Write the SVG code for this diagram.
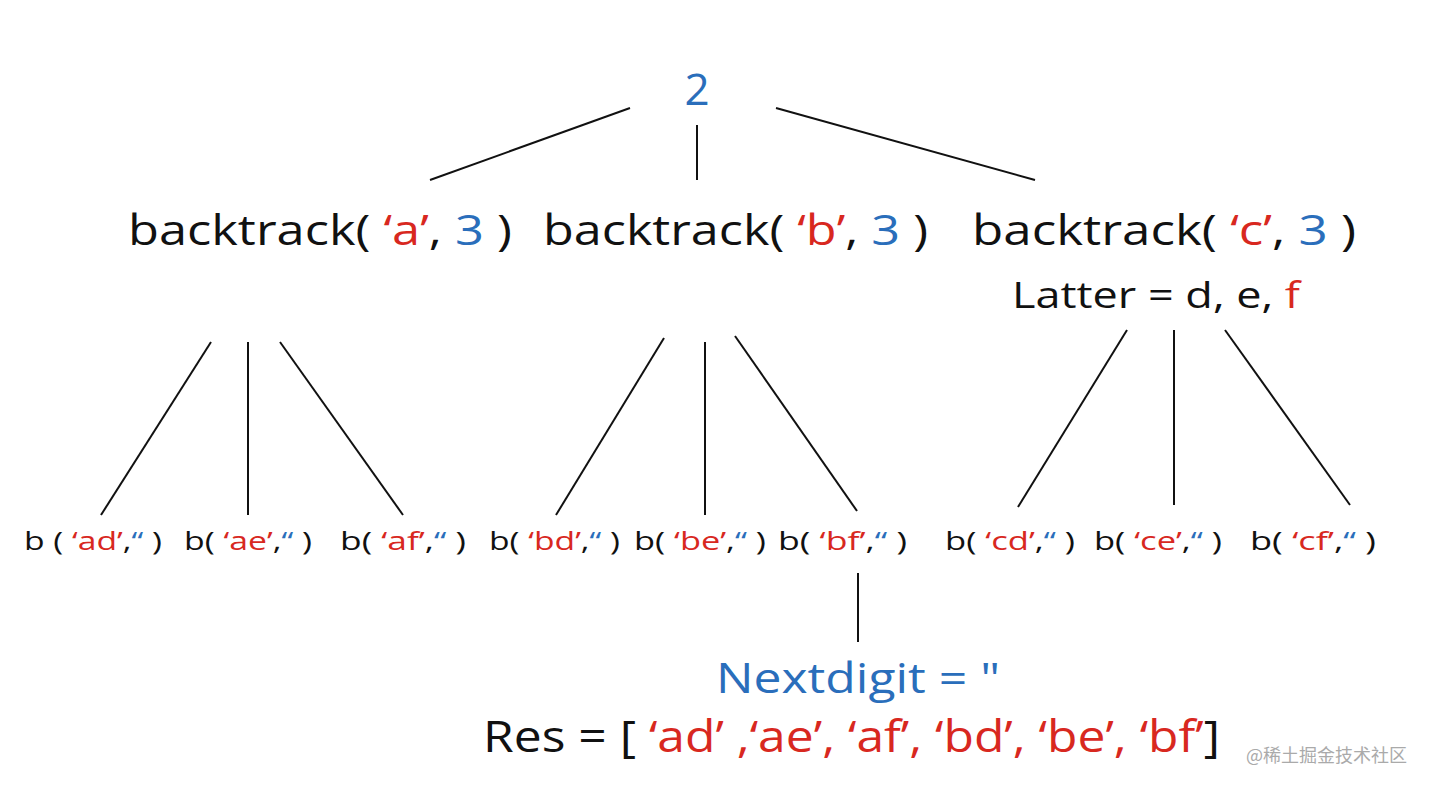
<svg xmlns="http://www.w3.org/2000/svg" width="1430" height="788" viewBox="0 0 1430 788">
<style>
text{font-family:"Open Sans","Liberation Sans",sans-serif;fill:#111}
.r{fill:#d8281f}.b{fill:#2a6ebb}
.l1{font-size:42px}.s{font-size:26px}
line{stroke:#111;stroke-width:2}
</style>
<rect width="1430" height="788" fill="#fff"/>
<g id="connectors">
<line x1="630" y1="108" x2="430" y2="180"/><line x1="697" y1="125" x2="697" y2="180"/><line x1="776" y1="108" x2="1035" y2="180"/>
<line x1="211" y1="342" x2="101" y2="515"/><line x1="248" y1="342" x2="248" y2="515"/><line x1="280" y1="342" x2="403" y2="515"/>
<line x1="664" y1="338" x2="556" y2="515"/><line x1="705" y1="342" x2="705" y2="515"/><line x1="735" y1="336" x2="857" y2="511"/>
<line x1="1127" y1="330" x2="1018" y2="507"/><line x1="1174" y1="330" x2="1174" y2="505"/><line x1="1225" y1="330" x2="1350" y2="505"/>
<line x1="858" y1="573" x2="858" y2="642"/>
</g>
<g id="root"><text x="697" y="105" class="b" font-size="44" text-anchor="middle">2</text></g>
<g id="bt-a"><text class="l1" x="128" y="245" textLength="384" lengthAdjust="spacingAndGlyphs">backtrack( <tspan class="r">‘a’</tspan>, <tspan class="b">3</tspan> )</text></g>
<g id="bt-b"><text class="l1" x="543" y="245" textLength="385" lengthAdjust="spacingAndGlyphs">backtrack( <tspan class="r">‘b’</tspan>, <tspan class="b">3</tspan> )</text></g>
<g id="bt-c"><text class="l1" x="972" y="245" textLength="384" lengthAdjust="spacingAndGlyphs">backtrack( <tspan class="r">‘c’</tspan>, <tspan class="b">3</tspan> )</text>
<text x="1012" y="308" font-size="36" textLength="288" lengthAdjust="spacingAndGlyphs">Latter = d, e, <tspan class="r">f</tspan></text></g>
<g id="ad"><text class="s" x="24" y="550" textLength="138" lengthAdjust="spacingAndGlyphs">b ( <tspan class="r">‘ad’</tspan>,<tspan class="b">“</tspan> )</text></g>
<g id="ae"><text class="s" x="184" y="550" textLength="128" lengthAdjust="spacingAndGlyphs">b( <tspan class="r">‘ae’</tspan>,<tspan class="b">“</tspan> )</text></g>
<g id="af"><text class="s" x="340" y="550" textLength="126" lengthAdjust="spacingAndGlyphs">b( <tspan class="r">‘af’</tspan>,<tspan class="b">“</tspan> )</text></g>
<g id="bd"><text class="s" x="489" y="550" textLength="131" lengthAdjust="spacingAndGlyphs">b( <tspan class="r">‘bd’</tspan>,<tspan class="b">“</tspan> )</text></g>
<g id="be"><text class="s" x="634" y="550" textLength="132" lengthAdjust="spacingAndGlyphs">b( <tspan class="r">‘be’</tspan>,<tspan class="b">“</tspan> )</text></g>
<g id="bf"><text class="s" x="778" y="550" textLength="129" lengthAdjust="spacingAndGlyphs">b( <tspan class="r">‘bf’</tspan>,<tspan class="b">“</tspan> )</text></g>
<g id="cd"><text class="s" x="945" y="550" textLength="130" lengthAdjust="spacingAndGlyphs">b( <tspan class="r">‘cd’</tspan>,<tspan class="b">“</tspan> )</text></g>
<g id="ce"><text class="s" x="1094" y="550" textLength="128" lengthAdjust="spacingAndGlyphs">b( <tspan class="r">‘ce’</tspan>,<tspan class="b">“</tspan> )</text></g>
<g id="cf"><text class="s" x="1250" y="550" textLength="126" lengthAdjust="spacingAndGlyphs">b( <tspan class="r">‘cf’</tspan>,<tspan class="b">“</tspan> )</text></g>
<g id="result">
<text x="716" y="693" font-size="42" class="b" textLength="284" lengthAdjust="spacingAndGlyphs">Nextdigit = "</text>
<text x="483" y="752" font-size="44" textLength="737" lengthAdjust="spacingAndGlyphs">Res = [ <tspan class="r">‘ad’ ,‘ae’, ‘af’, ‘bd’, ‘be’, ‘bf’</tspan>]</text>
</g>
<text x="1246" y="762" font-size="18" style="fill:#aaa;font-family:'Noto Sans CJK SC',sans-serif">@稀土掘金技术社区</text>
</svg>
